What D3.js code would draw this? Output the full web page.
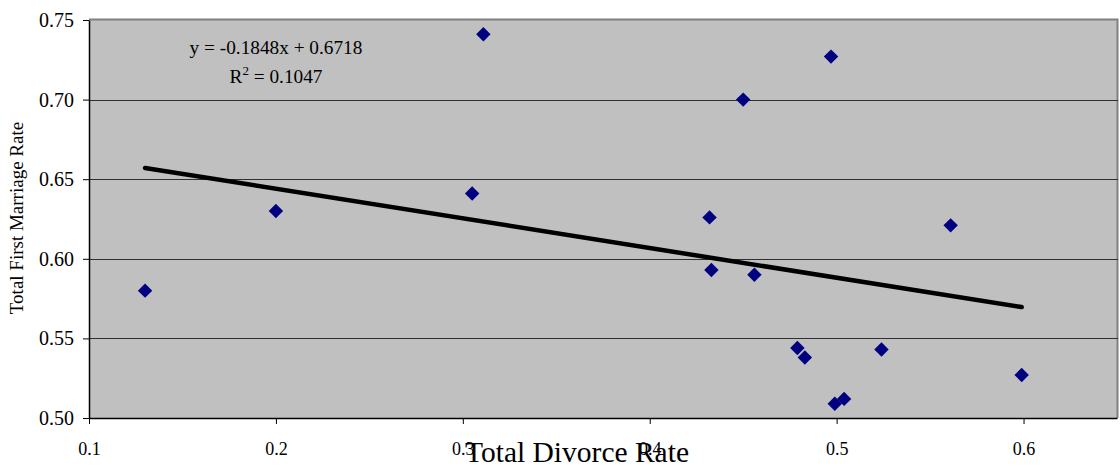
<!DOCTYPE html>
<html><head><meta charset="utf-8">
<script src="https://cdn.jsdelivr.net/npm/d3@7/dist/d3.min.js"></script>
<style>
html,body{margin:0;padding:0;background:#fff;}
svg{display:block;}
text{font-family:"Liberation Serif","Times New Roman",serif;fill:#000;}
</style></head>
<body>
<svg id="chart" width="1120" height="466"></svg>
<script>
const divorceRate = [0.130, 0.200, 0.305, 0.311, 0.432, 0.433, 0.450, 0.456, 0.497, 0.479, 0.483, 0.524, 0.561, 0.599, 0.499, 0.504];
const marriageRate = [0.580, 0.630, 0.641, 0.741, 0.626, 0.593, 0.700, 0.590, 0.727, 0.544, 0.538, 0.543, 0.621, 0.527, 0.509, 0.512];
const xTickValues = [0.1, 0.2, 0.3, 0.4, 0.5, 0.6];
const yTickValues = [0.50, 0.55, 0.60, 0.65, 0.70, 0.75];
const equationText = ["y = -0.1848x + 0.6718", "R", "2", " = 0.1047"];
const xTitle = "Total Divorce Rate";
const yTitle = "Total First Marriage Rate";

const svg = d3.select("#chart");
const L = 89, R = 1117, T = 20, B = 418;
const x = d3.scaleLinear().domain([0.1, 0.65]).range([L, R]);
const y = d3.scaleLinear().domain([0.50, 0.75]).range([B, T]);

// plot background
svg.append("rect").attr("x", L).attr("y", T).attr("width", R - L + 1).attr("height", B - T)
  .attr("fill", "#c0c0c0");
// top & right border
svg.append("path").attr("d", `M${L},${T - 0.5}H${R + 0.5}V${B}`).attr("fill", "none")
  .attr("stroke", "#808080").attr("stroke-width", 2);

// gridlines
svg.append("g").selectAll("line").data(yTickValues.filter(v => v > 0.5 && v < 0.75)).join("line")
  .attr("x1", L).attr("x2", R + 1)
  .attr("y1", d => Math.round(y(d)) + 0.5).attr("y2", d => Math.round(y(d)) + 0.5)
  .attr("stroke", "#303030").attr("stroke-width", 1);

// axes
const gx = svg.append("g").attr("transform", `translate(0,${B})`)
  .call(d3.axisBottom(x).tickValues(xTickValues).tickSize(6).tickSizeOuter(0).tickFormat(d3.format(".1f")));
gx.select(".domain").attr("stroke", "#000").attr("stroke-width", 1.5);
gx.selectAll(".tick line").attr("stroke", "#000");
gx.selectAll(".tick text").attr("y", 0).attr("dy", 0).attr("transform", "translate(0,37)")
  .style("font-size", "18px").style("font-family", '"Liberation Serif",serif');

const gy = svg.append("g").attr("transform", `translate(${L},0)`)
  .call(d3.axisLeft(y).tickValues(yTickValues).tickSize(6).tickSizeOuter(0).tickPadding(9).tickFormat(d3.format(".2f")));
gy.select(".domain").attr("stroke", "#000").attr("stroke-width", 1.5);
gy.selectAll(".tick line").attr("stroke", "#000");
gy.selectAll(".tick text").style("font-size", "20px").style("font-family", '"Liberation Serif",serif');

// trend line (least squares of the data)
const n = divorceRate.length;
const mx = d3.mean(divorceRate), my = d3.mean(marriageRate);
let sxy = 0, sxx = 0;
for (let i = 0; i < n; i++) { sxy += (divorceRate[i] - mx) * (marriageRate[i] - my); sxx += (divorceRate[i] - mx) ** 2; }
const slope = sxy / sxx, intercept = my - slope * mx;
const xExt = d3.extent(divorceRate);
svg.append("path")
  .datum(xExt.map(v => [v, intercept + slope * v]))
  .attr("d", d3.line().x(d => x(d[0])).y(d => y(d[1])))
  .attr("fill", "none").attr("stroke", "#000").attr("stroke-width", 4.5).attr("stroke-linecap", "round");

// points
const sym = d3.symbol().type(d3.symbolSquare).size(104);
svg.append("g").selectAll("path").data(divorceRate.map((v, i) => [v, marriageRate[i]])).join("path")
  .attr("d", sym)
  .attr("transform", d => `translate(${x(d[0])},${y(d[1])}) rotate(45)`)
  .attr("fill", "#000080");

// equation
svg.append("text").attr("x", 276).attr("y", 54).attr("text-anchor", "middle")
  .style("font-size", "19.3px").text(equationText[0]);
const r2 = svg.append("text").attr("x", 276).attr("y", 83).attr("text-anchor", "middle").style("font-size", "19.3px");
r2.append("tspan").text(equationText[1]);
r2.append("tspan").attr("dy", -8).style("font-size", "13px").text(equationText[2]);
r2.append("tspan").attr("dy", 8).text(equationText[3]);

// axis titles
svg.append("text").attr("x", 577).attr("y", 462).attr("text-anchor", "middle")
  .style("font-size", "29.5px").text(xTitle);
svg.append("text").attr("transform", "translate(23,218) rotate(-90)").attr("text-anchor", "middle")
  .style("font-size", "19px").text(yTitle);
</script>
</body></html>
